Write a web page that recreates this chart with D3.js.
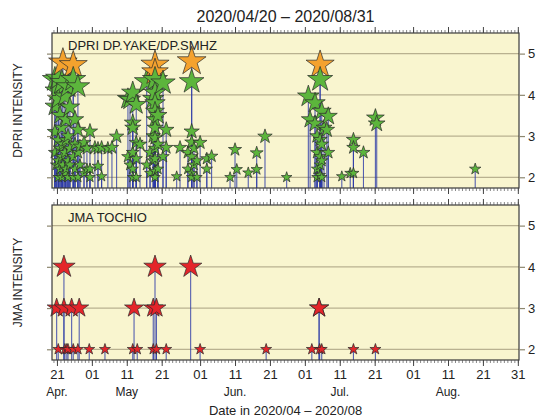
<!DOCTYPE html>
<html>
<head>
<meta charset="utf-8">
<script src="https://cdn.jsdelivr.net/npm/d3@7"></script>
<style>
  body { margin: 0; background: #fff; font-family: "Liberation Sans", Arial, sans-serif; }
  .axis text { font-family: "Liberation Sans", Arial, sans-serif; fill: #222; }
</style>
</head>
<body>
<div id="chart"></div>
<script>
// DPRI events: one entry per time, with the intensities recorded at that time
const dpriTimes = [
  "04-20 10", "04-20 20", "04-21 09", "04-21 21", "04-22 10", "04-22 17", "04-23 07", "04-23 14",
  "04-24 04", "04-24 17", "04-25 16", "04-26 04", "04-27 00", "04-27 14", "04-28 18", "04-29 14",
  "04-30 11", "05-01 21", "05-02 18", "05-03 19", "05-05 14", "05-06 18", "05-08 02", "05-11 08",
  "05-11 22", "05-12 17", "05-13 17", "05-14 19", "05-16 17", "05-17 16", "05-18 14", "05-19 02",
  "05-19 22", "05-21 09", "05-22 07", "05-25 07", "05-26 06", "05-28 12", "05-29 14", "05-30 06",
  "05-31 02", "06-01 00", "06-02 22", "06-04 07", "06-09 14", "06-11 00", "06-11 12", "06-14 19",
  "06-17 05", "06-19 14", "06-25 19", "07-02 00", "07-02 12", "07-03 22", "07-04 12", "07-05 09",
  "07-05 20", "07-06 12", "07-07 07", "07-07 17", "07-11 14", "07-14 00", "07-14 22", "07-17 19",
  "07-21 05", "07-21 14", "08-18 19"
];
const dpriValues = [
  [4.37, 3.72, 3.1, 2.6], [4.1, 2.3], [4.4, 3.9, 2.9, 2.4, 2.0], [3.5, 2.7, 2.2], [4.3, 3.2, 2.5, 2.0],
  [4.78, 2.8, 2.3], [3.96, 2.6, 2.1], [3.4, 2.9, 2.2], [4.2, 3.0, 2.4, 2.0], [3.7, 2.7, 2.3],
  [4.72, 4.37, 2.5, 2.0], [3.4, 2.8, 2.2], [4.2, 3.15, 2.6, 2.0], [2.75, 2.3], [2.84, 2.1], [2.7, 2.2],
  [3.11, 2.2, 2.0], [2.72], [2.7, 2.27], [2.72, 2.02], [2.7], [2.72], [2.99], [3.9, 2.5],
  [3.88, 2.3], [4.05, 3.32, 3.2, 2.6, 2.2, 2.0], [3.76, 2.84, 2.45, 2.0], [2.8], [4.32, 2.3], [2.6, 2.1], [3.9, 3.0, 2.4],
  [4.73, 4.55, 4.37, 4.05, 3.8, 3.6, 3.4, 3.2, 2.95, 2.7, 2.45, 2.15, 2.0],
  [3.5, 2.8, 2.2], [4.29, 2.5], [3.15, 2.72], [2.02], [2.72], [2.6, 2.2], [4.81, 4.32, 3.11, 2.85, 2.5, 2.1, 2.0], [2.7, 2.3],
  [2.4, 2.0], [2.84], [2.45, 2.2], [2.51], [2.0], [2.67], [2.19], [2.11],
  [2.59, 2.19], [2.99], [2.0], [3.96], [3.4], [3.8, 3.3], [3.0, 2.6, 2.2, 2.0], [4.73, 4.37, 2.91, 2.5, 2.3, 2.05],
  [3.6, 2.8, 2.4, 2.0], [3.2], [3.15], [3.48, 2.6], [2.02], [2.1], [2.91, 2.72, 2.1], [2.6],
  [3.44], [3.3], [2.2]
];

// JMA Tochio events
const jmaTimes = [
  "04-20 22", "04-21 09", "04-23 00", "04-23 07", "04-23 20", "04-24 04", "04-25 05", "04-25 16",
  "04-27 00", "04-27 09", "04-30 06", "05-04 18", "05-12 17", "05-13 02", "05-14 00", "05-18 14",
  "05-19 02", "05-19 12", "05-22 07", "05-29 07", "06-01 00", "06-19 22", "07-03 00", "07-05 02",
  "07-05 06", "07-05 20", "07-14 22", "07-21 05"
];
const jmaValues = [
  [3], [2], [4, 3], [2], [2], [2], [3], [2],
  [2], [3], [2], [2], [2], [3], [2], [3, 2],
  [4], [3, 2], [2], [4], [2], [2], [2], [3, 3],
  [2], [2], [2], [2]
];

const yTicks = [2, 3, 4, 5];
const majorTicks = ["04-21", "05-01", "05-11", "05-21", "06-01", "06-11", "06-21",
  "07-01", "07-11", "07-21", "08-01", "08-11", "08-21", "08-31"];
const monthLabels = ["Apr.", "May", "Jun.", "Jul.", "Aug."];
const monthLabelAt = ["04-21", "05-11", "06-11", "07-11", "08-11"];

const width = 542, height = 420;
const parseT = d3.timeParse('%Y-%m-%d %H');
const parseD = d3.timeParse('%Y-%m-%d');

const svg = d3.select('#chart')
  .append('svg')
  .attr('width', width)
  .attr('height', height);

const left = 52, right = 519;
const x = d3.scaleTime()
  .domain([parseT('2020-04-19 14'), parseT('2020-08-31 08')])
  .range([left, right]);

const majorDates = majorTicks.map(d => parseD('2020-' + d));
const minorDates = d3.timeDay.range(parseD('2020-04-20'), parseD('2020-09-01'));

function flatten(times, values) {
  const out = [];
  times.forEach((t, i) => values[i].forEach(v => out.push({ t: parseT('2020-' + t), v })));
  return out;
}

const panels = [
  {
    top: 33, bottom: 188, label: 'DPRI DP.YAKE/DP.SMHZ', ylabel: 'DPRI INTENSITY',
    data: flatten(dpriTimes, dpriValues),
    fill: v => v >= 4.5 ? '#f4a22e' : '#5cb53c',
    r: d3.scaleLinear().domain([2, 3, 4, 5]).range([5.6, 7.6, 11.5, 16]).clamp(true),
    labelY: 50
  },
  {
    top: 205, bottom: 360, label: 'JMA TOCHIO', ylabel: 'JMA INTENSITY',
    data: flatten(jmaTimes, jmaValues),
    fill: () => '#e4252a',
    r: d3.scaleLinear().domain([2, 3, 4]).range([5.8, 10, 11.8]).clamp(true),
    labelY: 222
  }
];

const star = d3.symbol().type(d3.symbolStar);

panels.forEach((p, pi) => {
  const y = d3.scaleLinear().domain([1.74, 5.5]).range([p.bottom, p.top]);
  const g = svg.append('g');

  // background
  g.append('rect')
    .attr('x', left).attr('y', p.top)
    .attr('width', right - left).attr('height', p.bottom - p.top)
    .attr('fill', '#f9f5cf');

  // grid lines
  g.selectAll('.grid')
    .data(yTicks)
    .join('line')
    .attr('x1', left).attr('x2', right)
    .attr('y1', d => y(d)).attr('y2', d => y(d))
    .attr('stroke', '#b9b190')
    .attr('stroke-width', 1.2);

  // stems
  g.append('g').selectAll('line')
    .data(p.data)
    .join('line')
    .attr('x1', d => x(d.t)).attr('x2', d => x(d.t))
    .attr('y1', p.bottom).attr('y2', d => y(d.v))
    .attr('stroke', '#2c3aa6')
    .attr('stroke-opacity', 0.8)
    .attr('stroke-width', 1.1);

  // stars
  g.append('g').selectAll('path')
    .data(p.data)
    .join('path')
    .attr('transform', d => `translate(${x(d.t)},${y(d.v)})`)
    .attr('d', d => star.size(p.r(d.v) * p.r(d.v) / 0.8908130915)())
    .attr('fill', d => p.fill(d.v))
    .attr('stroke', '#2a2a2a')
    .attr('stroke-width', 0.7);

  // frame
  g.append('rect')
    .attr('x', left).attr('y', p.top)
    .attr('width', right - left).attr('height', p.bottom - p.top)
    .attr('fill', 'none')
    .attr('stroke', '#3a3a3a')
    .attr('stroke-width', 1.2);

  // y axes
  const yRight = g.append('g')
    .attr('class', 'axis')
    .attr('transform', `translate(${right},0)`)
    .call(d3.axisRight(y).tickValues(yTicks).tickSize(6).tickPadding(3).tickFormat(d3.format('d')));
  yRight.select('.domain').remove();
  yRight.selectAll('line').attr('stroke', '#8d876f').attr('stroke-width', 1.2);
  yRight.selectAll('text').style('font-size', '13px');

  const yLeft = g.append('g')
    .attr('class', 'axis')
    .attr('transform', `translate(${left},0)`)
    .call(d3.axisLeft(y).tickValues(yTicks).tickSize(5).tickFormat(''));
  yLeft.select('.domain').remove();
  yLeft.selectAll('line').attr('stroke', '#8d876f').attr('stroke-width', 1.2);

  // x ticks, top and bottom of each panel
  [[d3.axisTop, p.top], [d3.axisBottom, p.bottom]].forEach(([axisFn, yy]) => {
    const minor = g.append('g')
      .attr('transform', `translate(0,${yy})`)
      .call(axisFn(x).tickValues(minorDates).tickSize(3).tickFormat(''));
    minor.select('.domain').remove();
    minor.selectAll('line').attr('stroke', '#555').attr('stroke-width', 0.7);

    const isLabelled = pi === 1 && yy === p.bottom;
    const major = g.append('g')
      .attr('class', 'axis')
      .attr('transform', `translate(0,${yy})`)
      .call(axisFn(x).tickValues(majorDates).tickSize(6).tickPadding(4)
        .tickFormat(isLabelled ? d3.timeFormat('%d') : ''));
    major.select('.domain').remove();
    major.selectAll('line').attr('stroke', '#444').attr('stroke-width', 1);
    major.selectAll('text').style('font-size', '13px');
  });

  // panel label
  g.append('text')
    .attr('x', 68).attr('y', p.labelY)
    .attr('font-size', 13)
    .attr('fill', '#222')
    .text(p.label);

  // y label
  g.append('text')
    .attr('transform', `translate(22,${(p.top + p.bottom) / 2}) rotate(-90)`)
    .attr('text-anchor', 'middle')
    .attr('font-size', 12)
    .attr('fill', '#222')
    .text(p.ylabel);
});

// month labels under the axis
svg.append('g').selectAll('text')
  .data(monthLabels)
  .join('text')
  .attr('x', (d, i) => x(parseD('2020-' + monthLabelAt[i])))
  .attr('y', 396)
  .attr('text-anchor', 'middle')
  .attr('font-size', 12)
  .attr('fill', '#222')
  .text(d => d);

// axis title
svg.append('text')
  .attr('x', (left + right) / 2).attr('y', 415)
  .attr('text-anchor', 'middle')
  .attr('font-size', 13)
  .attr('fill', '#222')
  .text('Date in 2020/04 \u2013 2020/08');

// chart title
svg.append('text')
  .attr('x', (left + right) / 2).attr('y', 22)
  .attr('text-anchor', 'middle')
  .attr('font-size', 16)
  .attr('fill', '#222')
  .text('2020/04/20 \u2013 2020/08/31');
</script>
</body>
</html>
